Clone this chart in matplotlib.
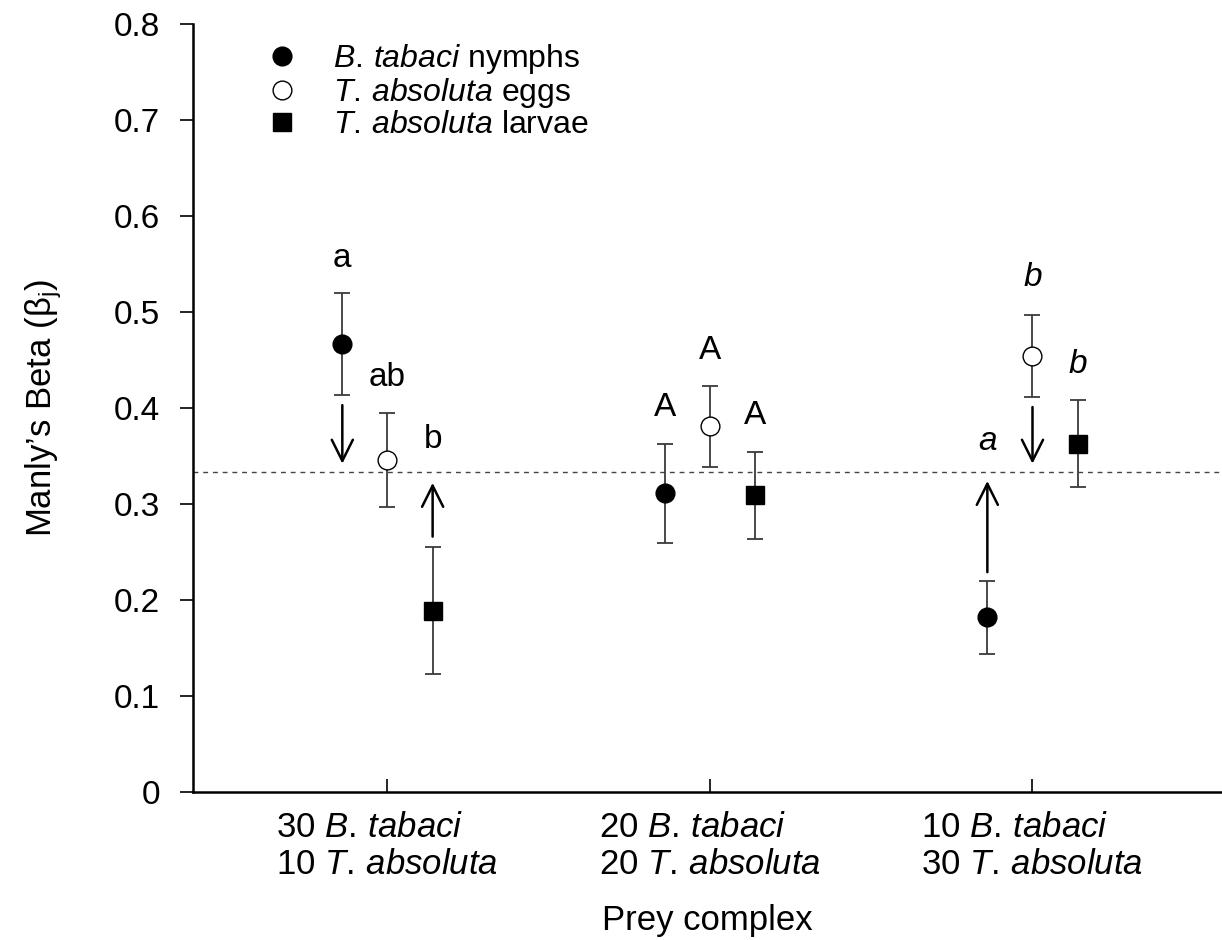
import matplotlib
matplotlib.use("Agg")
import matplotlib.pyplot as plt
from matplotlib.lines import Line2D
import numpy as np

plt.rcParams['font.family'] = ['Liberation Sans', 'DejaVu Sans']
plt.rcParams['mathtext.fontset'] = 'custom'
plt.rcParams['mathtext.rm'] = 'Liberation Sans'
plt.rcParams['mathtext.it'] = 'Liberation Sans:italic'
plt.rcParams['mathtext.bf'] = 'Liberation Sans:bold'

# ---- data ----
groups = [r"30 $\it{B.\,tabaci}$" + "\n" + r"10 $\it{T.\,absoluta}$",
          r"20 $\it{B.\,tabaci}$" + "\n" + r"20 $\it{T.\,absoluta}$",
          r"10 $\it{B.\,tabaci}$" + "\n" + r"30 $\it{T.\,absoluta}$"]
series_names = [r"$\it{B.\,tabaci}$ nymphs",
                r"$\it{T.\,absoluta}$ eggs",
                r"$\it{T.\,absoluta}$ larvae"]
nymphs = [0.467, 0.311, 0.182]
nymphs_err = [0.053, 0.052, 0.038]
eggs = [0.346, 0.381, 0.454]
eggs_err = [0.049, 0.042, 0.043]
larvae = [0.189, 0.309, 0.363]
larvae_err = [0.066, 0.045, 0.045]
reference_beta = 1 / 3

letters_nymphs = ["a", "A", "a"]
letters_eggs = ["ab", "A", "b"]
letters_larvae = ["b", "A", "b"]
letters_italic = [False, False, True]
letter_y_nymphs = [0.556, 0.401, 0.365]
letter_y_eggs = [0.432, 0.460, 0.536]
letter_y_larvae = [0.367, 0.392, 0.445]

# arrows: (group, series index, tail y, head y)
arrows = [(0, 0, 0.403, 0.342), (0, 2, 0.266, 0.322),
          (2, 0, 0.229, 0.324), (2, 1, 0.401, 0.342)]

# ---- figure ----
fig = plt.figure(figsize=(12.22, 9.40), dpi=100)
ax = fig.add_axes([193 / 1222, (940 - 792) / 940, 1029 / 1222, 768 / 940])

x = np.arange(1, len(groups) + 1)
off = 0.14
offsets = [-off, 0, off]
series = [(nymphs, nymphs_err, 'o', 'black'),
          (eggs, eggs_err, 'o', 'white'),
          (larvae, larvae_err, 's', 'black')]
ecol = '#3a3a3a'
for (vals, errs, mk, fc), o in zip(series, offsets):
    ax.errorbar(x + o, vals, yerr=errs, fmt='none', ecolor=ecol,
                elinewidth=1.3, capsize=5.5, capthick=1.3, zorder=2)
    ax.plot(x + o, vals, linestyle='none', marker=mk, markersize=13.5,
            markerfacecolor=fc, markeredgecolor='black', markeredgewidth=1.0,
            zorder=3)

ax.axhline(reference_beta, color='#444444', lw=1.0, linestyle=(0, (3.5, 3.5)), zorder=1)

for g, s, y0, y1 in arrows:
    ax.annotate('', xy=(x[g] + offsets[s], y1), xytext=(x[g] + offsets[s], y0),
                arrowprops=dict(arrowstyle='->', lw=1.8, color='black',
                                mutation_scale=38, shrinkA=0, shrinkB=0))

for s, (labs, ys) in enumerate([(letters_nymphs, letter_y_nymphs),
                                (letters_eggs, letter_y_eggs),
                                (letters_larvae, letter_y_larvae)]):
    for g in range(len(groups)):
        ax.text(x[g] + offsets[s], ys[g], labs[g], ha='center', va='center',
                fontsize=24, style='italic' if letters_italic[g] else 'normal')

ax.set_xlim(0.397, 3.5876)
ax.set_ylim(0, 0.8)
ax.set_xticks(x)
ax.set_xticklabels(groups, fontsize=25, multialignment='left', linespacing=1.15)
ax.set_yticks(np.arange(0, 0.81, 0.1))
ax.set_yticklabels(['0'] + [f"{v:.1f}" for v in np.arange(0.1, 0.81, 0.1)], fontsize=24)
ax.tick_params(axis='x', direction='in', length=9.5, width=1.2, pad=14)
ax.tick_params(axis='y', direction='out', length=9.5, width=1.2, pad=14)
for sp in ['top', 'right']:
    ax.spines[sp].set_visible(False)
for sp in ['left', 'bottom']:
    ax.spines[sp].set_linewidth(1.8)

ax.set_xlabel("Prey complex", fontsize=25, labelpad=16)
ax.set_ylabel(r"Manly’s Beta (β$_\mathrm{j}$)", fontsize=25, labelpad=36)

handles = [Line2D([], [], linestyle='none', marker='o', markersize=13.5,
                  markerfacecolor='black', markeredgecolor='black'),
           Line2D([], [], linestyle='none', marker='o', markersize=13.5,
                  markerfacecolor='white', markeredgecolor='black', markeredgewidth=1.0),
           Line2D([], [], linestyle='none', marker='s', markersize=13.5,
                  markerfacecolor='black', markeredgecolor='black')]
ax.legend(handles, series_names, loc='upper left', frameon=False, fontsize=23,
          bbox_to_anchor=(268 / 1222, (940 - 42) / 940), bbox_transform=fig.transFigure,
          borderpad=0, borderaxespad=0, handlelength=0.9, handletextpad=1.15,
          labelspacing=0.0)

fig.savefig("out.png", dpi=100)
